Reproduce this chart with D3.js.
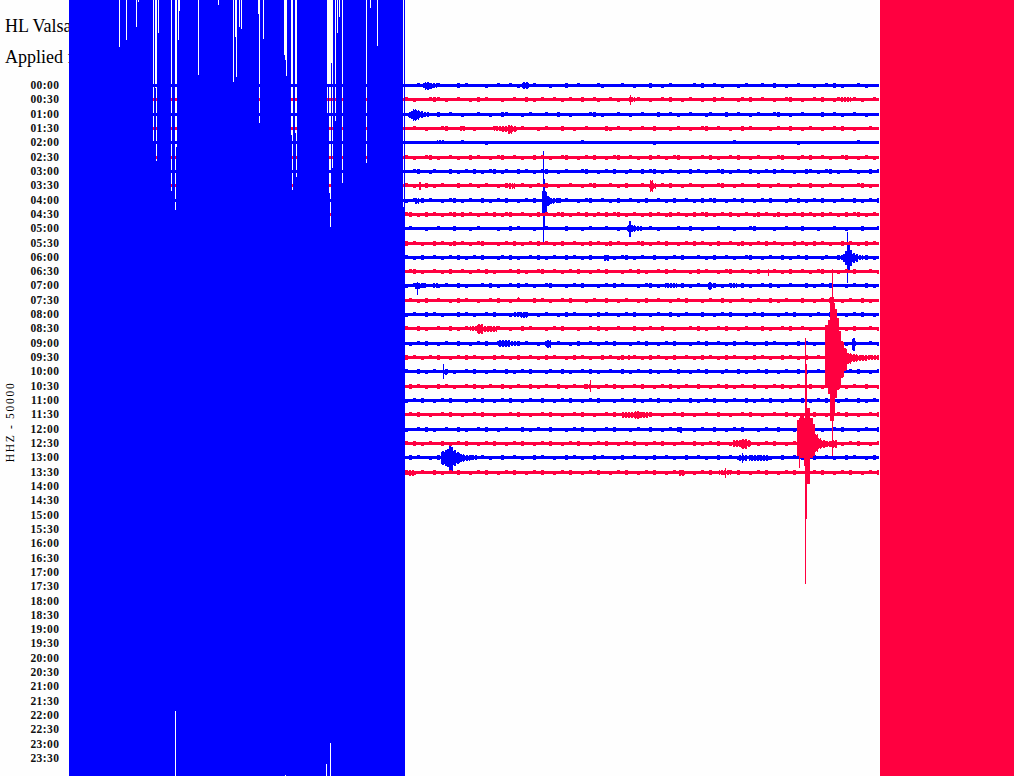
<!DOCTYPE html>
<html>
<head>
<meta charset="utf-8">
<script src="https://cdn.jsdelivr.net/npm/d3@7"></script>
<style>
  html, body { margin: 0; padding: 0; background: #fefefe; overflow: hidden; }
  svg { display: block; }
  .title { font-family: "Liberation Serif", serif; font-size: 18px; fill: #000; }
  .hour { font-family: "Liberation Serif", serif; font-size: 11.5px; font-weight: bold; fill: #111; letter-spacing: .45px; }
  .chan { font-family: "Liberation Serif", serif; font-size: 11.5px; fill: #000; letter-spacing: 1.7px; }
</style>
</head>
<body>
<div id="chart"></div>
<script>
// half hour labels, one per drum line
const hourLabels = ["00:00","00:30","01:00","01:30","02:00","02:30","03:00","03:30","04:00","04:30","05:00","05:30",
  "06:00","06:30","07:00","07:30","08:00","08:30","09:00","09:30","10:00","10:30","11:00","11:30",
  "12:00","12:30","13:00","13:30","14:00","14:30","15:00","15:30","16:00","16:30","17:00","17:30",
  "18:00","18:30","19:00","19:30","20:00","20:30","21:00","21:30","22:00","22:30","23:00","23:30"];
const titleLines = ["HL Valsamata", "Applied filter"];
const channelLabel = "HHZ - 50000";
const lineColors = ["#0000ff", "#ff0040"];

// clipped parts of the record (sample index along a line)
const clipBlue = [0, 336];
const clipRed = [811, 945];
const traceEnd = 811;
const recordedLines = 28;

// gaps in the clipped blue part: [sample, width, depth]
const gapsTop = [[50,1,47],[57,1,40],[67,1,27],[69,1,2],[84,1,141],[86,2,88],[87,1,161],[89,1,33],
  [102,1,82],[102,1,191],[106,2,147],[106,1,210],[109,1,40],[110,1,11],[129,1,75],[149,1,5],
  [164,1,82],[166,1,37],[167,1,77],[170,1,27],[172,1,29],[189,2,14],[190,1,123],[194,1,39],
  [215,2,55],[216,1,60],[217,1,76],[222,2,135],[223,1,190],[226,2,133],[227,1,177],
  [258,1,115],[259,1,87],[260,1,193],[261,1,227],[262,1,63],[263,1,168],[266,1,121],[268,1,33],
  [270,1,17],[273,1,183],[297,1,163],[301,1,8],[308,1,46],[334,1,207]];
const gapsBottom = [[106,1,65],[216,1,1],[257,1,12],[261,1,33]];

// background noise per line, one digit per 4 samples starting at the end of the blue part
// 0 nothing, 1 bump above, 2 bump below, 3 both
const noiseLines = [
  "00010200100003010000200100102000100020003001000012000010020003002010000010300102000201000100300200100020010302000102000",
  "10200013102001002030100020010030201001020100300120010200301002001030020100200301000210300100200130020010300210001020010",
  "01002000300100200010020031000201000100300200001302000100200100030010200100021000300100201000130020010000300102001002000",
  "00100200013000100200001020300100020100030020010000320100200100300020100200130010020030100002010030020100200103002000100",
  "00000000000000100000200000000000000000000000100000000000000000200000000000000000001000000000000000200000000000000100000",
  "10200130200102003010020130010200301020013002010300201300102003010201300200103020010300201002013000210300102001300201020",
  "00130021000302010302013021003010201300201000130020103002100301302010200301020013020100302010301002003102013020010200301",
  "10200302010003001020100203000102010300200100201300010203000102001030020100200013002010003002010020100300201002000130200",
  "20103010020130201003020103002010300210301002013001020300102030010203001020301300201030020103000210302010300201003020103",
  "13020301020130301020103021300102030102130201030210301302010203010230102030130201030201023010230201030120301020301302010",
  "01000200100030002010000200301000200100003000201000100200300001020000100300200010002000130000200100030002000100200030001",
  "30102003010230102013000201030201030102030010203010230102001302010300201030102030010230201030102003012030102003010203010",
  "10203001020103020103000210302001030201003010203000102013020100300201030001020300102001300201003020103000210030201003020",
  "01302001020300102010302000103020013001020103002010300020103020010301000203010020130010203000102030010201300020103000102",
  "20103000201003020001030200103010200130002010300020103010002013020100030201000302010030200103020010003020103000201003020",
  "01020300100203010020010300201000301020010300020100300201002030010020103000201003020010201003020100030020103002010030200",
  "20100301020003010200103000201030020100203010002030100201030002010030201000300201030002010300020103000201003000201030020",
  "10030200100302010002030100200301000201030002001030200100030201003002000103020010300201000302001030010200030100203000102",
  "02010300201003002010300102003010020300100203001020103000201030020103000201030010203001020030100200301020030100203000102",
  "30102010300201030102003010203001020301002030102003010230010203010203001020301020301002030102003010203001020301020030102",
  "10030201003020010300201003020103000210030200103020010030201003020010300201030002100302001030020100302001030020010300201",
  "03010200301020010302010030201003020100302010030020103020010300201030201003002010302010030020103020100300201030201003002",
  "20103002010300020103002010300201003002010300201030002010030201030020100302010300201003020103002010030201030020100302010",
  "01030020010300200103002000103002001030020010300200103000200103002001030020010030020010300200100302001030020010300200103",
  "20010302001003020010300201000302010030002010300200103000201003002010300020100300201030002010030002010300200103000201003",
  "10302010030201030020103002010300201030020103002010300201030020103002010030201030020103002010300201030020103002010300201",
  "03010020300102003001020030010200301002003010200301002030010020300102003001020030010200301002003001020030010200301002030",
  "30201003020103002010300201030020103002010300201030020103002010300201030020103002010300201030020103002010300201030020103"
];

// bursts: [line, sample, width, up, down]
const bursts = [
  [0,354,2,2.5,2.5],[0,356,5,4,4],[0,361,3,3,3],[0,364,4,2.5,2.5],[0,453,7,3.5,3.5],
  [1,561,1,5,5],[1,562,4,2.5,2.5],[1,772,10,2.5,2.5],
  [2,339,3,3,3],[2,342,2,4,4],[2,344,3,6,6],[2,347,3,5,5],[2,350,4,3.5,3.5],[2,354,6,2.5,2.5],
  [3,391,6,2.5,2.5],[3,425,8,2.5,2.5],[3,433,6,3,3],[3,439,4,4,5],[3,443,5,3,3],
  [4,368,8,2.5,1.5],
  [7,350,2,4,4],[7,440,2,3,3],[7,443,3,3,3],[7,581,3,6,6],[7,584,3,3,3],
  [8,346,4,3,3],[8,473,5,9.5,12],[8,474,2,22,27],[8,474,1,50,41],[8,478,3,5,5],[8,481,4,3,3],[8,485,8,2.5,2.5],
  [10,558,8,3.5,3.5],[10,560,2,8,8],[10,566,8,2.5,2.5],
  [12,535,5,3,3],[12,771,3,2.5,2.5],[12,774,2,4,4],[12,776,2,7,7],[12,778,3,15,14],[12,778,1,26,25],
  [12,781,2,8,8],[12,783,3,5,5],[12,786,3,4,4],[12,789,5,2.5,2.5],
  [13,699,1,3,4],
  [14,346,6,3,3],[14,348,1,4,9],[14,352,6,3,2.5],[14,364,6,2.5,2.5],[14,596,12,2.5,2.5],[14,639,4,3.5,4],[14,660,8,2.5,2.5],
  [15,449,1,3.5,1.5],
  [16,444,8,2.5,2.5],[16,452,6,3,3.5],
  [17,401,8,2.5,2.5],[17,408,6,5,5],[17,414,14,3,3],
  [18,429,12,3.5,3],[18,441,10,2.5,2.5],[18,477,5,4,4],[18,783,3,6,7],
  [19,559,2,3,2.5],[19,756,3,33,30],[19,759,2,38,36],[19,761,4,61,63],[19,763,1,89,98],[19,765,1,55,55],
  [19,766,2,49,40],[19,768,2,40,32],[19,770,2,27,30],[19,772,3,17,20],[19,775,3,10,13],[19,778,4,5,6],
  [19,782,6,3.5,4],[19,788,10,3,3],[19,798,13,2.5,2.5],
  [20,374,1,8,7],[20,375,3,3,3],
  [21,515,6,2.5,2.5],[21,521,1,7,5],
  [23,553,26,3,3],[23,566,5,4,4],
  [24,611,2,3,3],
  [25,664,8,3.5,3.5],[25,672,6,5,5],[25,678,4,3.5,3.5],[25,728,2,24,12],[25,730,1,26,24],[25,731,4,30,14],
  [25,735,1,26,22],[25,736,2,80,75],[25,736,1,106,140],[25,738,3,36,40],[25,741,3,26,14],[25,744,2,20,12],
  [25,746,3,10,8],[25,749,3,6,5],[25,752,5,4,4],[25,757,5,3,3],[25,762,6,3.5,4],
  [26,372,4,7,7],[26,376,2,8,8],[26,378,2,9,9],[26,380,2,13,13],[26,382,2,11,13],[26,384,3,8,8],
  [26,387,4,6,6],[26,391,4,4,4],[26,395,6,3,3],[26,401,8,2.5,2.5],[26,670,8,3,3],[26,673,1,5,5],[26,680,20,2.5,3],
  [27,339,6,3,3],[27,610,6,2.5,3],[27,650,12,2.5,2.5],[27,656,1,5,5]
];

const baseAmp = 1.5;
const width = 1016, height = 776;

const svg = d3.select("#chart").append("svg")
  .attr("width", width)
  .attr("height", height)
  .attr("shape-rendering", "crispEdges");

const x = d3.scaleLinear().domain([0, 945]).range([69, 1014]);
const y = d3.scaleLinear().domain([0, hourLabels.length - 1]).range([85, 758]);
const amp = d3.scaleLinear().domain([0, 100]).range([0, 100]);

// ---------------  TEXT  ---------------
svg.selectAll(".title").data(titleLines).enter().append("text")
  .attr("class", "title")
  .attr("x", 5)
  .attr("y", (d, i) => 32 + i * 31)
  .text(d => d);

svg.selectAll(".hour").data(hourLabels).enter().append("text")
  .attr("class", "hour")
  .attr("x", 59.5)
  .attr("y", (d, i) => y(i))
  .attr("dy", "0.35em")
  .attr("text-anchor", "end")
  .text(d => d);

svg.append("text")
  .attr("class", "chan")
  .attr("transform", "translate(14,422) rotate(-90)")
  .attr("text-anchor", "middle")
  .text(channelLabel);

// ---------------  TRACES  ---------------
// every line gets an up/down profile, one value per sample
function lineProfile(line) {
  const up = new Array(traceEnd).fill(baseAmp);
  const down = new Array(traceEnd).fill(baseAmp);
  const digits = noiseLines[line];
  for (let d = 0; d < digits.length; d++) {
    const code = +digits[d];
    const s0 = clipBlue[1] + d * 4;
    for (let s = s0; s < s0 + 3 && s < traceEnd; s++) {
      if (code & 1) up[s] = baseAmp + 1;
      if (code & 2) down[s] = baseAmp + 1;
    }
  }
  bursts.filter(b => b[0] == line).forEach(b => {
    for (let s = b[1]; s < b[1] + b[2] && s < traceEnd; s++) {
      // the envelope of a wider burst is serrated, not a solid block
      const notch = (b[2] > 2 && b[3] < 20 && s % 3 == 0) ? 1 : 0;
      up[s] = Math.max(up[s], b[3] - notch);
      down[s] = Math.max(down[s], b[4] - notch);
    }
  });
  return d3.range(traceEnd).map(s => ({ s: s, up: up[s], down: down[s] }));
}

const lines = d3.range(recordedLines);
const drawOrder = lines.filter(l => l % 2 == 0).concat(lines.filter(l => l % 2 == 1));

// whole pixel centre so the 3px band does not smear
const lineY = l => Math.round(y(l)) + 0.5;

svg.append("g").selectAll("path").data(drawOrder).enter().append("path")
  .attr("fill", l => lineColors[l % 2])
  .attr("d", l => d3.area()
    .curve(d3.curveStepAfter)
    .x(p => x(p.s))
    .y0(p => lineY(l) + amp(p.down))
    .y1(p => lineY(l) - amp(p.up))(lineProfile(l)));

// ---------------  CLIPPED PARTS  ---------------
const mask = svg.append("mask")
  .attr("id", "gaps")
  .attr("maskUnits", "userSpaceOnUse")
  .attr("x", 0).attr("y", 0)
  .attr("width", width).attr("height", height);
mask.append("rect").attr("width", width).attr("height", height).attr("fill", "#fff");
mask.selectAll(".top").data(gapsTop).enter().append("rect")
  .attr("class", "top")
  .attr("x", d => x(d[0]))
  .attr("y", 0)
  .attr("width", d => d[1])
  .attr("height", d => amp(d[2]))
  .attr("fill", "#000");
mask.selectAll(".bottom").data(gapsBottom).enter().append("rect")
  .attr("class", "bottom")
  .attr("x", d => x(d[0]))
  .attr("y", d => height - amp(d[2]))
  .attr("width", d => d[1])
  .attr("height", d => amp(d[2]))
  .attr("fill", "#000");

svg.append("rect")
  .attr("x", x(clipBlue[0]))
  .attr("y", 0)
  .attr("width", x(clipBlue[1]) - x(clipBlue[0]))
  .attr("height", height)
  .attr("fill", lineColors[0])
  .attr("mask", "url(#gaps)");

svg.append("rect")
  .attr("x", x(clipRed[0]))
  .attr("y", 0)
  .attr("width", x(clipRed[1]) - x(clipRed[0]))
  .attr("height", height)
  .attr("fill", lineColors[1]);
</script>
</body>
</html>
